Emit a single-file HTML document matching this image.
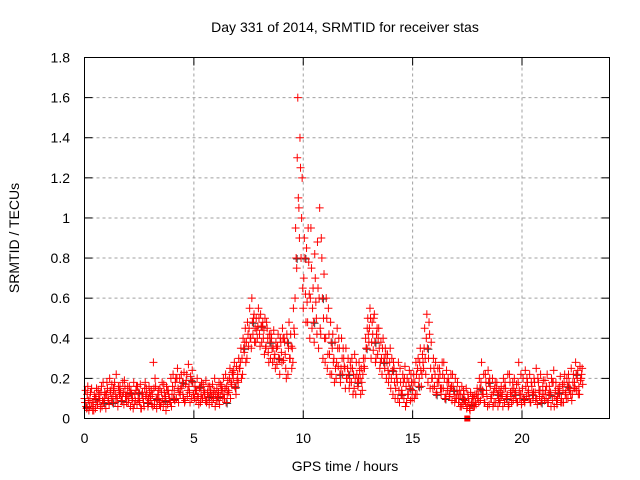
<!DOCTYPE html>
<html><head><meta charset="utf-8"><style>
body{margin:0;background:#fff;}
svg{display:block;font-family:"Liberation Sans",sans-serif;}
</style></head><body>
<svg id="chart" width="640" height="480" viewBox="0 0 640 480">
<rect width="640" height="480" fill="#fff"/>
<text x="345" y="32" font-size="14" text-anchor="middle">Day 331 of 2014, SRMTID for receiver stas</text>
<text x="19" y="238" font-size="14" text-anchor="middle" transform="rotate(-90 19 238)">SRMTID / TECUs</text>
<text x="345" y="471" font-size="14" text-anchor="middle">GPS time / hours</text>
<g id="grid"></g><g id="ticks"></g><g id="marks"></g>
<rect x="84.5" y="57.5" width="525" height="361" fill="none" stroke="#000" stroke-width="1"/>
</svg>
<script>
const xTicks=[0,5,10,15,20];
const yTicks=[0,0.2,0.4,0.6,0.8,1,1.2,1.4,1.6,1.8];
const yTickLabels=["0","0.2","0.4","0.6","0.8","1","1.2","1.4","1.6","1.8"];
const tStart=0, tStep=0.1;
const seriesA=[.10,.05,.04,.06,.08,.05,.07,.09,.06,.10,
.12,.09,.13,.11,.08,.10,.12,.09,.07,.11,
.08,.06,.10,.12,.07,.09,.05,.08,.11,.06,
.09,.12,.07,.05,.10,.08,.06,.11,.07,.09,
.12,.14,.10,.08,.15,.12,.09,.11,.13,.10,
.12,.09,.11,.08,.10,.13,.09,.07,.11,.10,
.12,.09,.11,.14,.10,.16,.13,.18,.20,.15,
.22,.25,.30,.33,.38,.36,.40,.42,.45,.40,
.42,.38,.44,.36,.33,.30,.28,.32,.27,.30,
.33,.29,.25,.22,.30,.35,.42,.75,1.05,.80,
.55,.62,.48,.40,.45,.38,.50,.35,.42,.30,
.28,.25,.32,.22,.30,.20,.26,.18,.22,.25,
.20,.15,.18,.22,.12,.16,.20,.14,.25,.35,
.38,.30,.34,.28,.32,.25,.22,.30,.20,.18,
.15,.12,.10,.18,.08,.14,.10,.16,.12,.09,
.14,.18,.12,.20,.16,.25,.22,.18,.15,.20,
.16,.13,.18,.12,.15,.10,.14,.11,.09,.12,
.10,.08,.12,.07,.09,.06,.05,.08,.10,.07,
.12,.09,.14,.08,.11,.07,.10,.13,.08,.06,
.09,.12,.08,.10,.07,.11,.09,.13,.08,.10,
.12,.09,.11,.14,.08,.10,.13,.07,.11,.09,
.12,.10,.08,.13,.09,.11,.07,.12,.10,.08,
.13,.10,.15,.12,.18,.14,.16,.20];
const seriesB=[.14,.16,.10,.08,.12,.15,.10,.13,.18,.12,
.15,.20,.17,.14,.22,.16,.13,.18,.15,.12,
.16,.12,.18,.14,.10,.17,.13,.15,.12,.16,
.14,.28,.16,.12,.15,.18,.13,.16,.12,.20,
.22,.18,.25,.20,.16,.23,.19,.27,.21,.18,
.16,.20,.15,.18,.14,.19,.16,.13,.17,.20,
.15,.18,.14,.20,.22,.19,.25,.23,.28,.26,
.30,.35,.40,.45,.48,.55,.60,.52,.50,.55,
.52,.48,.50,.45,.42,.40,.44,.38,.42,.40,
.45,.38,.42,.48,.36,.55,.95,1.60,1.40,1.20,
.90,.85,.78,.95,.65,.70,.88,1.05,.80,.72,
.60,.55,.48,.42,.38,.45,.35,.40,.30,.35,
.30,.28,.25,.32,.22,.28,.25,.30,.40,.50,
.55,.48,.52,.42,.45,.38,.40,.35,.32,.28,
.30,.25,.22,.28,.18,.22,.26,.20,.24,.18,
.22,.28,.30,.35,.32,.45,.52,.48,.38,.30,
.28,.25,.22,.28,.20,.24,.18,.22,.16,.20,
.18,.14,.16,.12,.15,.10,.13,.11,.12,.15,
.20,.28,.22,.18,.24,.16,.20,.15,.18,.14,
.16,.20,.15,.22,.18,.14,.20,.17,.28,.22,
.20,.24,.18,.22,.16,.20,.25,.18,.22,.16,
.19,.22,.16,.20,.24,.18,.15,.21,.17,.22,
.20,.18,.25,.22,.28,.24,.26,.25];
const seriesC=[.08,.12,.06,.15,.04,.11,.14,.05,.09,.13,
.18,.07,.10,.15,.12,.06,.16,.11,.19,.08,
.10,.14,.05,.09,.16,.08,.12,.06,.15,.10,
.11,.06,.20,.09,.07,.13,.17,.04,.14,.08,
.16,.09,.20,.13,.22,.10,.17,.14,.08,.24,
.10,.14,.07,.12,.17,.09,.13,.16,.08,.14,
.09,.13,.17,.10,.15,.12,.20,.17,.24,.12,
.18,.28,.22,.38,.30,.45,.35,.50,.38,.46,
.36,.46,.32,.48,.28,.42,.35,.25,.36,.22,
.28,.40,.20,.35,.42,.28,.60,1.30,.90,1.00,
.70,.48,.95,.60,.55,.82,.42,.60,.90,.50,
.40,.32,.22,.35,.18,.28,.40,.25,.35,.15,
.25,.18,.30,.15,.28,.20,.12,.22,.30,.45,
.45,.38,.50,.30,.40,.28,.35,.25,.28,.22,
.20,.28,.15,.10,.25,.12,.20,.08,.18,.22,
.18,.12,.25,.28,.22,.35,.40,.30,.25,.15,
.22,.18,.25,.15,.28,.12,.20,.15,.22,.08,
.14,.10,.06,.14,.08,.12,.04,.10,.06,.12,
.08,.18,.12,.22,.06,.20,.12,.08,.15,.10,
.13,.06,.18,.12,.22,.08,.15,.10,.18,.12,
.15,.08,.20,.10,.18,.13,.09,.20,.14,.12,
.09,.16,.12,.06,.18,.14,.10,.16,.08,.18,
.10,.22,.12,.18,.15,.20,.12,.22];
const seriesD=[.06,.09,.13,.04,.10,.07,.12,.16,.08,.05,
.10,.14,.08,.18,.10,.14,.09,.13,.11,.16,
.13,.09,.07,.16,.13,.05,.10,.18,.08,.13,
.07,.15,.10,.14,.06,.10,.09,.14,.10,.06,
.10,.20,.15,.12,.18,.08,.22,.16,.19,.12,
.14,.11,.16,.10,.12,.08,.11,.14,.12,.06,
.11,.07,.16,.12,.08,.14,.10,.22,.16,.19,
.25,.20,.35,.28,.42,.40,.48,.38,.44,.50,
.46,.40,.35,.40,.38,.35,.30,.35,.30,.38,
.40,.32,.38,.30,.25,.45,.80,1.10,1.25,.65,
.80,.58,.62,.75,.48,.58,.65,.45,.60,.40,
.50,.42,.38,.28,.25,.35,.22,.30,.26,.20,
.22,.25,.12,.20,.18,.24,.18,.26,.35,.42,
.50,.42,.38,.45,.35,.30,.28,.32,.24,.35,
.24,.18,.20,.14,.12,.18,.06,.12,.15,.10,
.10,.22,.16,.24,.28,.30,.35,.42,.20,.25,
.12,.20,.15,.22,.10,.18,.12,.16,.14,.10,
.12,.06,.10,.09,.05,.08,.07,.06,.08,.10,
.15,.12,.08,.14,.18,.10,.06,.18,.12,.08,
.11,.15,.10,.06,.13,.18,.12,.08,.14,.07,
.10,.16,.13,.08,.12,.18,.10,.14,.08,.19,
.14,.08,.12,.18,.06,.09,.13,.08,.14,.12,
.16,.14,.09,.15,.22,.12,.19,.17];
const squareT=[17.5], squareV=[0];
const NS="http://www.w3.org/2000/svg";
const X0=84.5,X1=609.5,Y0=418.5,Y1=57.5;
const xs=t=>X0+(t/24)*(X1-X0);
const ys=v=>Y0-(v/1.8)*(Y0-Y1);
function mk(tag,attrs,parent){const e=document.createElementNS(NS,tag);for(const k in attrs)e.setAttribute(k,attrs[k]);parent.appendChild(e);return e;}
const grid=document.getElementById('grid'),ticks=document.getElementById('ticks'),marks=document.getElementById('marks');
yTicks.forEach((v,i)=>{const y=ys(v);
 if(i>0&&i<yTicks.length-1){const g=mk('line',{x1:X0,x2:X1,y1:y,y2:y,stroke:'#a0a0a0','stroke-dasharray':'3,3'},grid);
 
 }
 mk('line',{x1:X0,x2:X0+8,y1:y,y2:y,stroke:'#000'},ticks);
 mk('line',{x1:X1,x2:X1-8,y1:y,y2:y,stroke:'#000'},ticks);
 const t=mk('text',{x:70,y:y+5,'font-size':14,'text-anchor':'end'},ticks);t.textContent=yTickLabels[i];
 
 
});
xTicks.forEach(v=>{const x=xs(v);
 if(v>0){const g=mk('line',{x1:x,x2:x,y1:Y0,y2:Y1,stroke:'#a0a0a0','stroke-dasharray':'3,3'},grid);
 
 }
 mk('line',{x1:x,x2:x,y1:Y0,y2:Y0-8,stroke:'#000'},ticks);
 mk('line',{x1:x,x2:x,y1:Y1,y2:Y1+8,stroke:'#000'},ticks);
 const t=mk('text',{x:x,y:443,'font-size':14,'text-anchor':'middle'},ticks);t.textContent=String(v);
 
 
});
function plus(x,y,col){const p=mk('path',{d:`M${x-4},${y}H${x+4}M${x},${y-4}V${y+4}`,stroke:col,'stroke-width':1,fill:'none'},marks);
 
 }
seriesD.forEach((v,i)=>{if(i%4===0)plus(xs(tStart+i*tStep+0.075)+1,ys(v)+1,'#404040');});
seriesA.forEach((v,i)=>plus(xs(tStart+i*tStep),ys(v),'#ff0000'));
seriesC.forEach((v,i)=>plus(xs(tStart+i*tStep+0.025),ys(v),'#ff0000'));
seriesB.forEach((v,i)=>plus(xs(tStart+i*tStep+0.05),ys(v),'#ff0000'));
seriesD.forEach((v,i)=>plus(xs(tStart+i*tStep+0.075),ys(v),'#ff0000'));
squareT.forEach((t,i)=>{const r=mk('rect',{x:xs(t)-3,y:ys(squareV[i])-3,width:6,height:6,fill:'#ff0000'},marks);
 
 });
</script>
</body></html>
